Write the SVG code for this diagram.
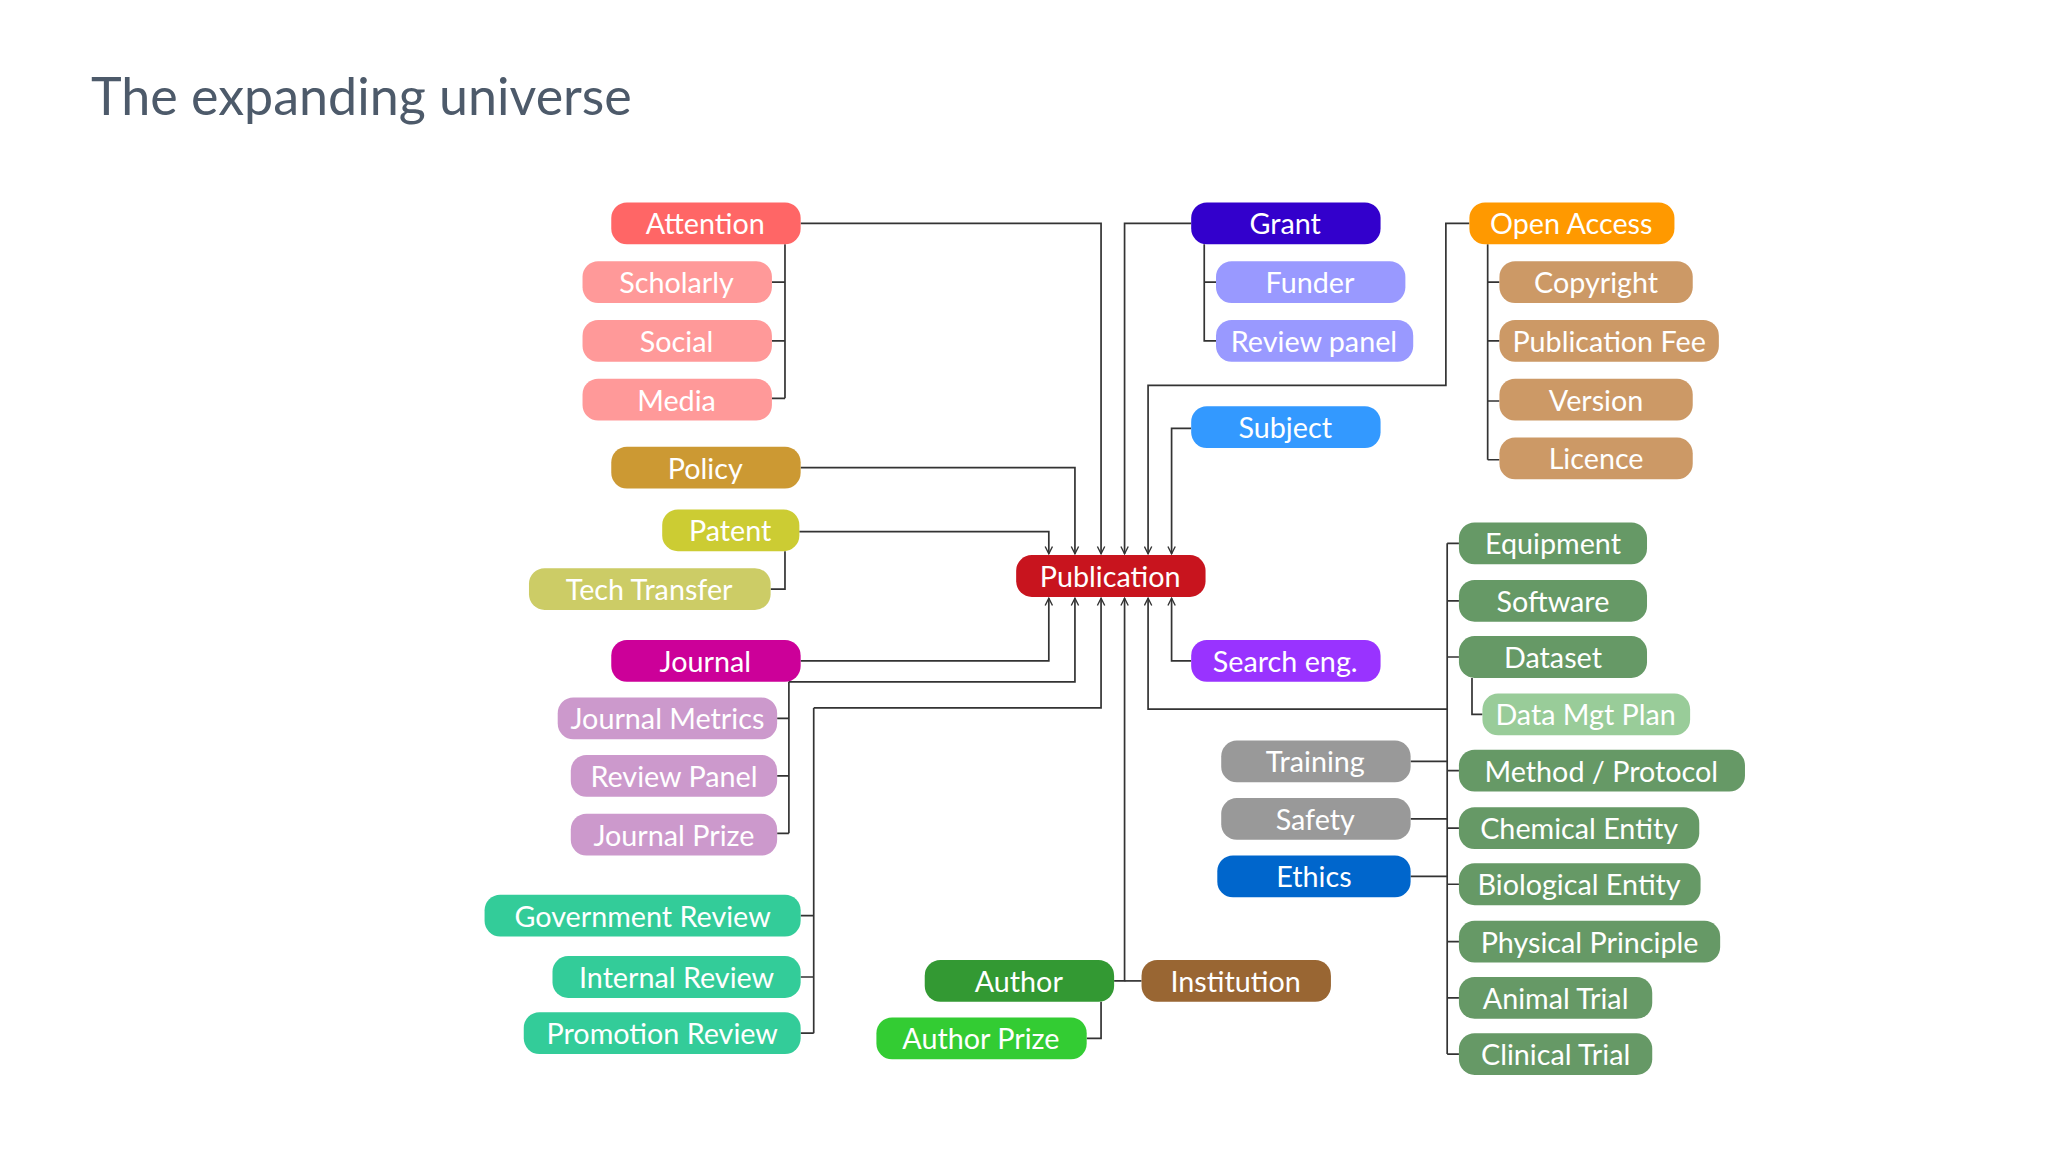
<svg xmlns="http://www.w3.org/2000/svg" width="2048" height="1152" viewBox="0 0 2048 1152">
<defs>
<style>
.n rect{rx:12;ry:12}
.n text{font-family:Lato,"Open Sans",sans-serif;font-size:22px;fill:#fff;text-anchor:middle;dominant-baseline:central}
.c path{fill:none;stroke:#333;stroke-width:1.3}
.a{marker-end:url(#ah)}
</style>
<marker id="ah" viewBox="0 0 10 10" refX="9" refY="5" markerWidth="7" markerHeight="7" orient="auto-start-reverse" markerUnits="userSpaceOnUse"><path d="M1,1 L9,5 L1,9" fill="none" stroke="#333" stroke-width="1.5"/></marker>
</defs>
<rect width="2048" height="1152" fill="#fff"/>
<text x="91" y="115" font-family="Lato,'Open Sans',sans-serif" font-size="52" fill="#4d5a6a">The expanding universe</text>
<g transform="scale(1.30612)">
<g class="c" id="connectors">
<path class="a" d="M613,171 H843 V424"/>
<path d="M601,187 V305 M591,216 H601 M591,261 H601 M591,305 H601"/>
<path class="a" d="M613,358 H823 V424"/>
<path class="a" d="M612,407 H803 V424"/>
<path d="M601,422 V451 H590"/>
<path class="a" d="M912,171 H861 V424"/>
<path d="M922,187 V261 H931 M922,216 H931"/>
<path class="a" d="M1125,171 H1107 V295 H879 V424"/>
<path d="M1139,187 V352 M1139,216 H1148 M1139,261 H1148 M1139,307 H1148 M1139,352 H1148"/>
<path class="a" d="M912,328 H897 V424"/>
<path class="a" d="M613,506 H803 V458"/>
<path class="a" d="M604,522 H823 V458"/>
<path d="M604,522 V638 M595,550 H604 M595,594 H604 M595,638 H604"/>
<path class="a" d="M623,542 H843 V458"/>
<path d="M623,542 V791 M613,701 H623 M613,748 H623 M613,791 H623"/>
<path class="a" d="M853,751 H861 V458"/>
<path d="M861,751 H874"/>
<path d="M843,767 V795 H832"/>
<path class="a" d="M912,506 H897 V458"/>
<path class="a" d="M1108,543 H879 V458"/>
<path d="M1108,416 V807 M1108,416 H1117 M1108,460 H1117 M1108,503 H1117 M1108,590 H1117 M1108,634 H1117 M1108,677 H1117 M1108,721 H1117 M1108,764 H1117 M1108,807 H1117"/>
<path d="M1127,519 V547 H1135"/>
<path d="M1080,583 H1108 M1080,627 H1108 M1080,671 H1108"/>
</g>
<g class="n" id="attention"><rect x="468" y="155" width="145" height="32" fill="#ff6666"/><text x="540" y="171">Attention</text></g>
<g class="n" id="scholarly"><rect x="446" y="200" width="145" height="32" fill="#ff9999"/><text x="518" y="216">Scholarly</text></g>
<g class="n" id="social"><rect x="446" y="245" width="145" height="32" fill="#ff9999"/><text x="518" y="261">Social</text></g>
<g class="n" id="media"><rect x="446" y="290" width="145" height="32" fill="#ff9999"/><text x="518" y="306">Media</text></g>
<g class="n" id="policy"><rect x="468" y="342" width="145" height="32" fill="#cc9933"/><text x="540" y="358">Policy</text></g>
<g class="n" id="patent"><rect x="507" y="390" width="105" height="32" fill="#cccc33"/><text x="559" y="406">Patent</text></g>
<g class="n" id="techtransfer"><rect x="405" y="435" width="185" height="32" fill="#cccc66"/><text x="497" y="451">Tech Transfer</text></g>
<g class="n" id="journal"><rect x="468" y="490" width="145" height="32" fill="#cc0099"/><text x="540" y="506">Journal</text></g>
<g class="n" id="journalmetrics"><rect x="427" y="534" width="168" height="32" fill="#cc99cc"/><text x="511" y="550">Journal Metrics</text></g>
<g class="n" id="reviewpanel"><rect x="437" y="578" width="158" height="32" fill="#cc99cc"/><text x="516" y="594">Review Panel</text></g>
<g class="n" id="journalprize"><rect x="437" y="623" width="158" height="32" fill="#cc99cc"/><text x="516" y="639">Journal Prize</text></g>
<g class="n" id="govreview"><rect x="371" y="685" width="242" height="32" fill="#33cc99"/><text x="492" y="701">Government Review</text></g>
<g class="n" id="intreview"><rect x="423" y="732" width="190" height="32" fill="#33cc99"/><text x="518" y="748">Internal Review</text></g>
<g class="n" id="promreview"><rect x="401" y="775" width="212" height="32" fill="#33cc99"/><text x="507" y="791">Promotion Review</text></g>
<g class="n" id="publication"><rect x="778" y="425" width="145" height="32" fill="#c8141e"/><text x="850" y="441">Publication</text></g>
<g class="n" id="grant"><rect x="912" y="155" width="145" height="32" fill="#3300cc"/><text x="984" y="171">Grant</text></g>
<g class="n" id="funder"><rect x="931" y="200" width="145" height="32" fill="#9999ff"/><text x="1003" y="216">Funder</text></g>
<g class="n" id="reviewpanel2"><rect x="931" y="245" width="151" height="32" fill="#9999ff"/><text x="1006" y="261">Review panel</text></g>
<g class="n" id="openaccess"><rect x="1125" y="155" width="157" height="32" fill="#ff9900"/><text x="1203" y="171">Open Access</text></g>
<g class="n" id="copyright"><rect x="1148" y="200" width="148" height="32" fill="#cc9966"/><text x="1222" y="216">Copyright</text></g>
<g class="n" id="pubfee"><rect x="1148" y="245" width="168" height="32" fill="#cc9966"/><text x="1232" y="261">Publication Fee</text></g>
<g class="n" id="version"><rect x="1148" y="290" width="148" height="32" fill="#cc9966"/><text x="1222" y="306">Version</text></g>
<g class="n" id="licence"><rect x="1148" y="335" width="148" height="32" fill="#cc9966"/><text x="1222" y="351">Licence</text></g>
<g class="n" id="subject"><rect x="912" y="311" width="145" height="32" fill="#3399ff"/><text x="984" y="327">Subject</text></g>
<g class="n" id="searcheng"><rect x="912" y="490" width="145" height="32" fill="#9933ff"/><text x="984" y="506">Search eng.</text></g>
<g class="n" id="equipment"><rect x="1117" y="400" width="144" height="32" fill="#669966"/><text x="1189" y="416">Equipment</text></g>
<g class="n" id="software"><rect x="1117" y="444" width="144" height="32" fill="#669966"/><text x="1189" y="460">Software</text></g>
<g class="n" id="dataset"><rect x="1117" y="487" width="144" height="32" fill="#669966"/><text x="1189" y="503">Dataset</text></g>
<g class="n" id="datamgt"><rect x="1135" y="531" width="159" height="32" fill="#99cc99"/><text x="1214" y="547">Data Mgt Plan</text></g>
<g class="n" id="method"><rect x="1117" y="574" width="219" height="32" fill="#669966"/><text x="1226" y="590">Method / Protocol</text></g>
<g class="n" id="chemical"><rect x="1117" y="618" width="184" height="32" fill="#669966"/><text x="1209" y="634">Chemical Entity</text></g>
<g class="n" id="biological"><rect x="1117" y="661" width="185" height="32" fill="#669966"/><text x="1209" y="677">Biological Entity</text></g>
<g class="n" id="physical"><rect x="1117" y="705" width="200" height="32" fill="#669966"/><text x="1217" y="721">Physical Principle</text></g>
<g class="n" id="animal"><rect x="1117" y="748" width="148" height="32" fill="#669966"/><text x="1191" y="764">Animal Trial</text></g>
<g class="n" id="clinical"><rect x="1117" y="791" width="148" height="32" fill="#669966"/><text x="1191" y="807">Clinical Trial</text></g>
<g class="n" id="training"><rect x="935" y="567" width="145" height="32" fill="#999999"/><text x="1007" y="583">Training</text></g>
<g class="n" id="safety"><rect x="935" y="611" width="145" height="32" fill="#999999"/><text x="1007" y="627">Safety</text></g>
<g class="n" id="ethics"><rect x="932" y="655" width="148" height="32" fill="#0066cc"/><text x="1006" y="671">Ethics</text></g>
<g class="n" id="author"><rect x="708" y="735" width="145" height="32" fill="#339933"/><text x="780" y="751">Author</text></g>
<g class="n" id="institution"><rect x="874" y="735" width="145" height="32" fill="#996633"/><text x="946" y="751">Institution</text></g>
<g class="n" id="authorprize"><rect x="671" y="779" width="161" height="32" fill="#33cc33"/><text x="751" y="795">Author Prize</text></g>
</g>
</svg>
